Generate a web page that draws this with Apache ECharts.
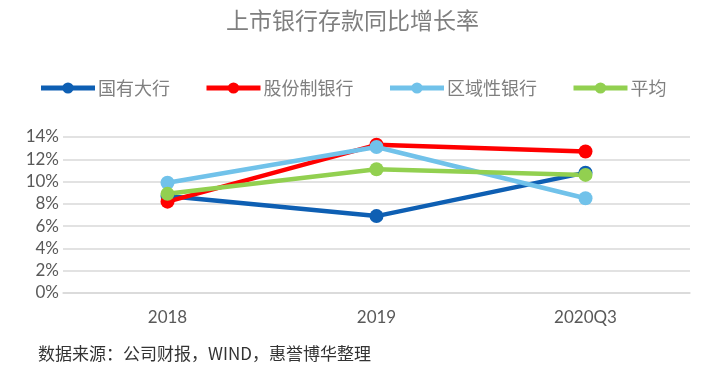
<!DOCTYPE html>
<html><head><meta charset="utf-8">
<script src="https://cdn.jsdelivr.net/npm/echarts@6/dist/echarts.min.js"></script>
<style>html,body{margin:0;padding:0;background:#fff}#c{width:705px;height:381px}</style>
</head><body><div id="c"></div>
<script>
const categories = ['2018', '2019', '2020Q3'];
const seriesNames = ['国有大行', '股份制银行', '区域性银行', '平均'];
const stateBanks = [8.7, 6.9, 10.8];
const jointStock = [8.2, 13.3, 12.7];
const regional = [9.9, 13.1, 8.5];
const average = [8.9, 11.1, 10.6];
const yTicks = [0, 2, 4, 6, 8, 10, 12, 14];
const colors = ['#0E5FB3', '#FF0000', '#71C2EA', '#92D050'];
const values = [stateBanks, jointStock, regional, average];

const chart = echarts.init(document.getElementById('c'));
chart.setOption({
  animation: false,
  title: {
    text: '上市银行存款同比增长率', left: 'center', top: 4,
    textStyle: { color: '#7f7f7f', fontSize: 23, fontWeight: 'normal', fontFamily: 'Noto Sans CJK SC' }
  },
  legend: {
    top: 74, left: 'center', itemWidth: 54, itemHeight: 14, itemGap: 34,
    lineStyle: { width: 5 },
    textStyle: { color: '#7f7f7f', fontSize: 18, fontFamily: 'Noto Sans CJK SC', padding: [0, 0, 0, -2] },
    data: seriesNames
  },
  grid: { left: 63, right: 15, top: 137, bottom: 88 },
  xAxis: {
    type: 'category', data: categories, boundaryGap: true,
    axisLine: { lineStyle: { color: '#d9d9d9', width: 1.5 } },
    axisTick: { show: false },
    axisLabel: { color: '#595959', fontSize: 17, margin: 16, fontFamily: 'Lato' }
  },
  yAxis: {
    type: 'value', min: 0, max: 14, interval: 2,
    axisLine: { show: false }, axisTick: { show: false },
    splitLine: { lineStyle: { color: '#d9d9d9', width: 1.5 } },
    axisLabel: { color: '#595959', fontSize: 17, margin: 4, fontFamily: 'Lato', formatter: v => v + '%' }
  },
  graphic: [{
    type: 'text', left: 38, top: 345,
    style: { text: '数据来源：公司财报，WIND，惠誉博华整理', fill: '#333', fontSize: 17, fontFamily: 'Noto Sans CJK SC' }
  }],
  series: seriesNames.map((n, i) => ({
    name: n, type: 'line', data: values[i],
    symbol: 'circle', symbolSize: 14,
    lineStyle: { color: colors[i], width: 4.5 },
    itemStyle: { color: colors[i] }
  }))
});
</script></body></html>
